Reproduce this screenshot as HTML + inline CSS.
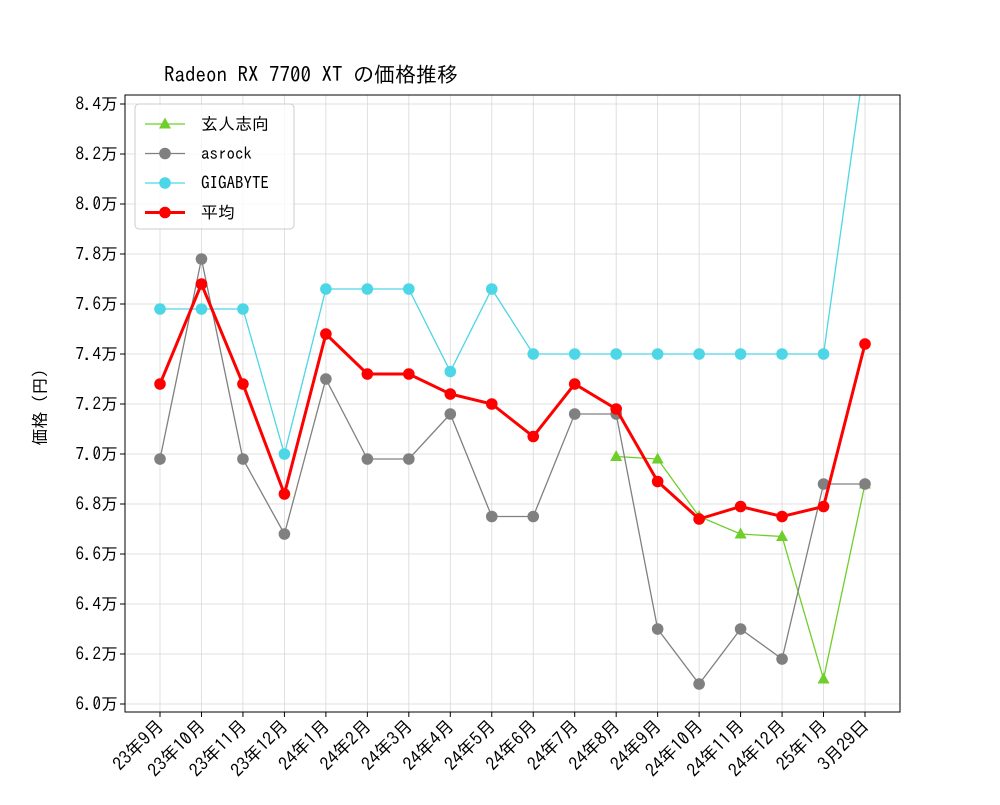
<!DOCTYPE html>
<html><head><meta charset="utf-8"><style>
body{margin:0;background:#fff}
svg text{font-family:"IPAGothic","Liberation Mono","Noto Sans CJK JP",monospace;fill:#000}
</style></head><body>
<svg id="c" width="1000" height="800" viewBox="0 0 1000 800" xmlns="http://www.w3.org/2000/svg"></svg>
<script>
const categories=["23年9月","23年10月","23年11月","23年12月","24年1月","24年2月","24年3月","24年4月","24年5月","24年6月","24年7月","24年8月","24年9月","24年10月","24年11月","24年12月","25年1月","3月29日"];
const kurouto=[null,null,null,null,null,null,null,null,null,null,null,6.99,6.98,6.75,6.68,6.67,6.10,6.88];
const asrock=[6.98,7.78,6.98,6.68,7.30,6.98,6.98,7.16,6.75,6.75,7.16,7.16,6.30,6.08,6.30,6.18,6.88,6.88];
const gigabyte=[7.58,7.58,7.58,7.00,7.66,7.66,7.66,7.33,7.66,7.40,7.40,7.40,7.40,7.40,7.40,7.40,7.40,8.58];
const average=[7.28,7.68,7.28,6.84,7.48,7.32,7.32,7.24,7.20,7.07,7.28,7.18,6.89,6.74,6.79,6.75,6.79,7.44];
const yTicks=[6.0,6.2,6.4,6.6,6.8,7.0,7.2,7.4,7.6,7.8,8.0,8.2,8.4];
const L=125,R=900,T=95,B=712;
const x=i=>160+i*(865-160)/(categories.length-1);
const y=v=>704-(v-6.0)*250;
const svg=document.getElementById('c');const NS="http://www.w3.org/2000/svg";
function mk(t,a,p){const e=document.createElementNS(NS,t);for(const k in a)e.setAttribute(k,a[k]);(p||svg).appendChild(e);return e;}
categories.forEach((c,i)=>{const g=mk('line',{x1:x(i),x2:x(i),y1:T,y2:B,stroke:'#d8d8d8','stroke-width':0.8});


mk('line',{x1:x(i),x2:x(i),y1:B,y2:B+5,stroke:'#000'});
const t=mk('text',{x:x(i)+5,y:B+15,'font-size':18,'text-anchor':'end',transform:`rotate(-45 ${x(i)+5} ${B+15})`});t.textContent=c;

});
yTicks.forEach(v=>{const g=mk('line',{x1:L,x2:R,y1:y(v),y2:y(v),stroke:'#d8d8d8','stroke-width':0.8});


mk('line',{x1:L-5,x2:L,y1:y(v),y2:y(v),stroke:'#000'});
const t=mk('text',{x:L-7,y:y(v)+6,'font-size':17,'text-anchor':'end'});t.textContent=v.toFixed(1)+'万';

});
const clip=mk('clipPath',{id:'pc'});mk('rect',{x:L,y:T,width:R-L,height:B-T},clip);
function series(data,color,w,marker,name){const g=mk('g',{'clip-path':'url(#pc)'});


let d='';data.forEach((v,i)=>{if(v==null)return;d+=(d?'L':'M')+x(i)+' '+y(v);});
mk('path',{d,fill:'none',stroke:color,'stroke-width':w},g);
data.forEach((v,i)=>{if(v==null)return;let m;
if(marker==='tri'){const cx=x(i),cy=y(v);m=mk('polygon',{points:`${cx},${cy-6.5} ${cx-6},${cy+4.5} ${cx+6},${cy+4.5}`,fill:color},g);}
else m=mk('circle',{cx:x(i),cy:y(v),r:5.8,fill:color},g);

});}
series(kurouto,'#6fcf2a',1.3,'tri','kurouto-series');
series(asrock,'#808080',1.3,'c','asrock-series');
series(gigabyte,'#4dd6e6',1.3,'c','gigabyte-series');
series(average,'#ff0000',3,'c','average-series');
mk('rect',{x:L,y:T,width:R-L,height:B-T,fill:'none',stroke:'#000','stroke-width':1});
const title=mk('text',{x:164,y:82,'font-size':21});title.textContent='Radeon RX 7700 XT の価格推移';


const yl=mk('text',{x:46,y:403,'font-size':17,'text-anchor':'middle',transform:'rotate(-90 46 403)'});yl.textContent='価格（円）';


const lg=mk('g',{});


mk('rect',{x:135,y:104,width:159,height:125,rx:4,fill:'#fff',stroke:'#ccc','fill-opacity':0.8},lg);
[['玄人志向','#6fcf2a',1.3,'tri'],['asrock','#808080',1.3,'c'],['GIGABYTE','#4dd6e6',1.3,'c'],['平均','#ff0000',3,'c']].forEach((e,k)=>{
const yy=124+k*29.5;const it=mk('g',{},lg);


mk('line',{x1:145,x2:185,y1:yy,y2:yy,stroke:e[1],'stroke-width':e[2]},it);
if(e[3]==='tri')mk('polygon',{points:`165,${yy-6.5} 159,${yy+4.5} 171,${yy+4.5}`,fill:e[1]},it);
else mk('circle',{cx:165,cy:yy,r:5.8,fill:e[1]},it);
const t=mk('text',{x:201,y:yy+6,'font-size':17},it);t.textContent=e[0];});
</script>
</body></html>
